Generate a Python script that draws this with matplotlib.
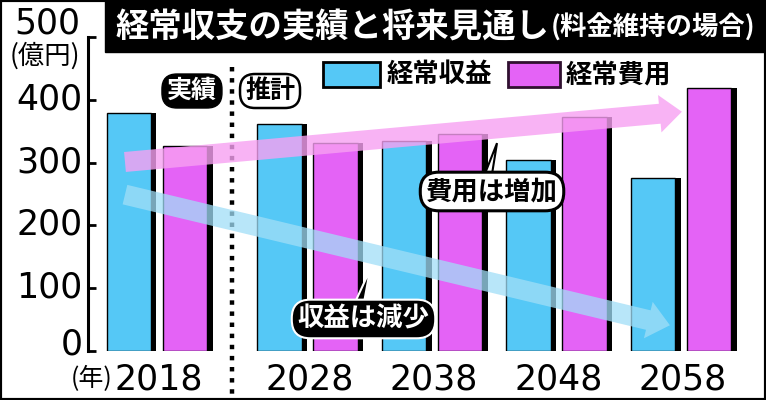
import numpy as np
import matplotlib
matplotlib.use('Agg')
import matplotlib.pyplot as plt
from matplotlib.patches import Rectangle, Polygon
from matplotlib.transforms import ScaledTranslation, blended_transform_factory

plt.rcParams['font.family'] = ['Noto Sans CJK JP', 'DejaVu Sans']

# -------------------- data (億円) --------------------
years = ['2018', '2028', '2038', '2048', '2058']
revenue = [379, 362, 335, 304, 276]   # 経常収益
expense = [327, 331, 345, 373, 418]   # 経常費用
y_ticks = [0, 100, 200, 300, 400, 500]

cyan = '#55C8F6'
magenta = '#E463F6'

# group positions: 実績 (2018) stands apart from the 推計 years
x_pos = np.array([0, 1.21, 2.21, 3.21, 4.21])
bar_w = 0.355
shadow = 0.045

fig = plt.figure(figsize=(7.66, 4.0), dpi=100)
ax = fig.add_axes([88/766, 49/400, 657/766, 314/400])

# -------------------- bars with black drop shadow --------------------
rev_left = x_pos - 0.42
exp_left = x_pos + 0.03
ax.bar(rev_left + shadow, revenue, width=bar_w, align='edge', color='black', zorder=2)
ax.bar(exp_left + shadow, expense, width=bar_w, align='edge', color='black', zorder=2)
ax.bar(rev_left, revenue, width=bar_w, align='edge', color=cyan,
       edgecolor='black', linewidth=1.0, zorder=3)
ax.bar(exp_left, expense, width=bar_w, align='edge', color=magenta,
       edgecolor='black', linewidth=1.0, zorder=3)

# -------------------- axes --------------------
ax.set_xlim(-0.57, 4.707)
ax.set_ylim(0, 500)
for s in ['top', 'right', 'bottom']:
    ax.spines[s].set_visible(False)
ax.spines['left'].set_linewidth(2.2)

ax.set_yticks(y_ticks)
ax.set_yticklabels([str(v) for v in y_ticks[:-1]] + [''], fontsize=25, family='DejaVu Sans')
ax.tick_params(axis='y', direction='in', length=6, width=2, pad=4)
for i, lab in enumerate(ax.get_yticklabels()):
    up = 10 if i == 0 else 4
    lab.set_transform(lab.get_transform() + ScaledTranslation(0, up/100, fig.dpi_scale_trans))

ax.set_xticks(x_pos)
ax.set_xticklabels(years, fontsize=25, family='DejaVu Sans')
ax.tick_params(axis='x', length=0, pad=8)

fig.text(80/766, 1 - 23/400, '500', ha='right', va='center', fontsize=25, family='DejaVu Sans')
fig.text(80/766, 1 - 56/400, '(億円)', ha='right', va='center', fontsize=19)
fig.text(113/766, 1 - 379/400, '(年)', ha='right', va='center', fontsize=18)

# -------------------- 実績 / 推計 divider --------------------
trans = blended_transform_factory(ax.transData, fig.transFigure)
ax.plot([0.586, 0.586], [1 - 67/400, 1 - 398/400], transform=trans, color='black',
        lw=3.2, linestyle=(0, (1, 1.5)), clip_on=False, zorder=4)
ax.text(0.265, 414, '実績', ha='center', va='center', fontsize=18, fontweight='bold',
        color='white', zorder=6,
        bbox=dict(boxstyle='round,pad=0.2,rounding_size=0.6', fc='black', ec='black'))
ax.text(0.892, 414, '推計', ha='center', va='center', fontsize=18, fontweight='bold',
        color='black', zorder=6,
        bbox=dict(boxstyle='round,pad=0.2,rounding_size=0.6', fc='white', ec='black', lw=1.8))

# -------------------- trend arrows --------------------
ax.annotate('', xy=(4.2, 381), xytext=(-0.273, 301), zorder=5,
            arrowprops=dict(arrowstyle='simple,head_length=0.8,head_width=1.35,tail_width=0.72',
                            mutation_scale=20, fc='#F7A0F2', ec='none', alpha=0.8,
                            shrinkA=0, shrinkB=0))
ax.annotate('', xy=(4.104, 41), xytext=(-0.273, 249), zorder=5,
            arrowprops=dict(arrowstyle='simple,head_length=0.8,head_width=1.35,tail_width=0.72',
                            mutation_scale=20, fc='#A0DEF7', ec='none', alpha=0.75,
                            shrinkA=0, shrinkB=0))

# -------------------- callouts --------------------
ax.add_patch(Polygon([(2.578, 262), (2.659, 262), (2.715, 331)], closed=True,
                     fc='white', ec='black', lw=1.5, zorder=6))
ax.text(2.675, 254, '費用は増加', ha='center', va='center', fontsize=19, fontweight='bold',
        zorder=7, bbox=dict(boxstyle='round,pad=0.22,rounding_size=0.7', fc='white', ec='black', lw=2.2))

ax.add_patch(Polygon([(1.534, 60), (1.631, 60), (1.695, 129)], closed=True,
                     fc='black', ec='white', lw=1.5, zorder=6))
ax.text(1.643, 51, '収益は減少', ha='center', va='center', fontsize=19, fontweight='bold',
        color='white', zorder=7,
        bbox=dict(boxstyle='round,pad=0.22,rounding_size=0.7', fc='black', ec='white', lw=1.5))

# -------------------- legend --------------------
fig.add_artist(Rectangle((323/766, 1 - 87/400), 57/766, 25/400, transform=fig.transFigure,
                         fc=cyan, ec='black', lw=2))
fig.text(387/766, 1 - 75/400, '経常収益', fontsize=19, fontweight='bold', va='center')
fig.add_artist(Rectangle((508/766, 1 - 87/400), 52/766, 25/400, transform=fig.transFigure,
                         fc=magenta, ec='#301030', lw=2))
fig.text(566/766, 1 - 75/400, '経常費用', fontsize=19, fontweight='bold', va='center')

# -------------------- title band and frame --------------------
fig.add_artist(Rectangle((105/766, 1 - 52/400), 661/766, 52/400, transform=fig.transFigure,
                         color='black'))
fig.text(115/766, 1 - 27/400, '経常収支の実績と将来見通し', color='white', fontsize=24,
         fontweight='bold', va='center')
fig.text(551/766, 1 - 28/400, '(料金維持の場合)', color='white', fontsize=19,
         fontweight='bold', va='center')
fig.add_artist(Rectangle((0, 0), 1, 1, transform=fig.transFigure, fill=False,
                         ec='black', lw=3))

fig.savefig('out.png', dpi=100)
